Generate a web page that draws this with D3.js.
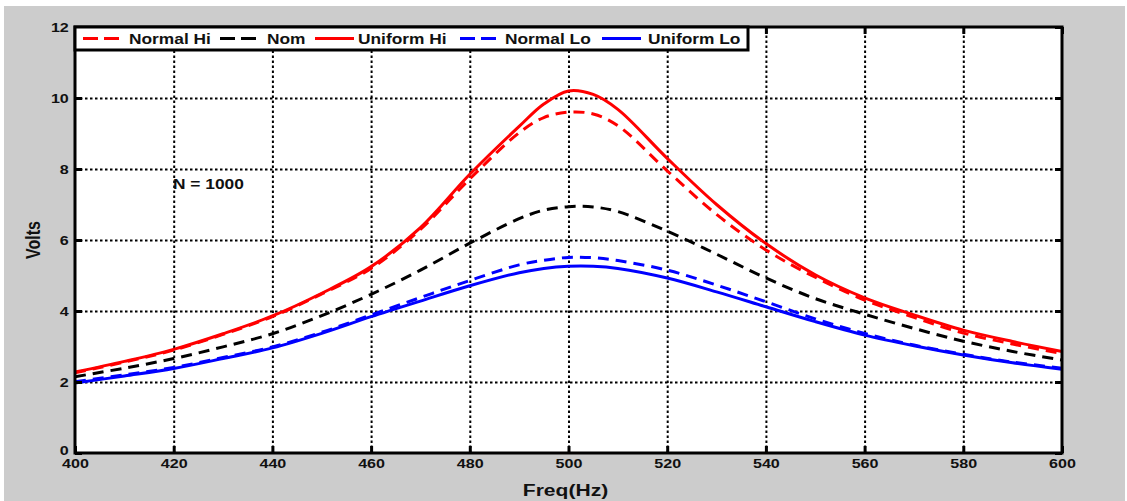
<!DOCTYPE html>
<html>
<head>
<meta charset="utf-8">
<script src="https://cdn.jsdelivr.net/npm/d3@7"></script>
<style>
  body { margin: 0; background: #fff; }
  svg { display: block; }
  text { font-family: 'Liberation Sans', Arial, sans-serif; font-weight: bold; fill: #111; }
</style>
</head>
<body>
<svg></svg>
<script>
const w = 1127;
const h = 501;

// data
const freq = [400, 410, 420, 430, 440, 450, 460, 470, 480, 490, 495, 500, 505, 510, 520, 530, 540, 550, 560, 570, 580, 590, 600];
const normalHi = [2.26, 2.56, 2.9, 3.34, 3.84, 4.48, 5.2, 6.3, 7.72, 9.02, 9.45, 9.6, 9.55, 9.22, 7.95, 6.72, 5.72, 4.95, 4.31, 3.82, 3.38, 3.07, 2.8];
const nom = [2.15, 2.39, 2.66, 2.99, 3.36, 3.87, 4.47, 5.15, 5.91, 6.6, 6.84, 6.94, 6.93, 6.8, 6.25, 5.6, 4.93, 4.35, 3.91, 3.51, 3.15, 2.86, 2.62];
const uniformHi = [2.28, 2.58, 2.92, 3.36, 3.86, 4.5, 5.25, 6.35, 7.85, 9.2, 9.83, 10.2, 10.1, 9.68, 8.3, 7.0, 5.9, 5.02, 4.37, 3.89, 3.46, 3.14, 2.86];
const normalLo = [2.01, 2.2, 2.41, 2.69, 2.99, 3.4, 3.89, 4.38, 4.86, 5.3, 5.43, 5.51, 5.5, 5.42, 5.15, 4.73, 4.26, 3.78, 3.37, 3.04, 2.78, 2.56, 2.39];
const uniformLo = [1.97, 2.17, 2.38, 2.66, 2.96, 3.37, 3.84, 4.28, 4.71, 5.08, 5.2, 5.26, 5.26, 5.2, 4.93, 4.54, 4.12, 3.7, 3.32, 3.02, 2.76, 2.54, 2.36];
const xTicks = [400, 420, 440, 460, 480, 500, 520, 540, 560, 580, 600];
const yTicks = [0, 2, 4, 6, 8, 10, 12];
const seriesNames = ['Normal Hi', 'Nom', 'Uniform Hi', 'Normal Lo', 'Uniform Lo'];

const series = [
  { name: seriesNames[0], values: normalHi, color: '#ff0000', dash: '11,7' },
  { name: seriesNames[1], values: nom, color: '#000000', dash: '11,7' },
  { name: seriesNames[2], values: uniformHi, color: '#ff0000', dash: null },
  { name: seriesNames[3], values: normalLo, color: '#0000ff', dash: '11,7' },
  { name: seriesNames[4], values: uniformLo, color: '#0000ff', dash: null }
];

// the original figure is stretched sideways, text too
const stretch = 1.24;

const margin = { top: 27, right: 65, bottom: 48, left: 75 };
const iw = w - margin.left - margin.right;
const ih = h - margin.top - margin.bottom;

const svg = d3.select('svg').attr('width', w).attr('height', h);

// grey figure background
svg.append('rect').attr('width', w).attr('height', h).attr('fill', '#fff');
svg.append('rect')
  .attr('x', 4).attr('y', 6)
  .attr('width', w - 6).attr('height', h - 6)
  .attr('fill', '#cccccc');

const g = svg.append('g').attr('transform', `translate(${margin.left},${margin.top})`);

const x = d3.scaleLinear().domain([400, 600]).range([0, iw]);
const y = d3.scaleLinear().domain([0, 12]).range([ih, 0]);

g.append('rect').attr('width', iw).attr('height', ih).attr('fill', '#fff');

// dotted grid
const gridX = g.append('g')
  .attr('transform', `translate(0,${ih})`)
  .call(d3.axisBottom(x).tickValues(xTicks.slice(1, -1)).tickSize(-ih).tickFormat(''));
const gridY = g.append('g')
  .call(d3.axisLeft(y).tickValues(yTicks.slice(1, -1)).tickSize(-iw).tickFormat(''));
[gridX, gridY].forEach(gr => {
  gr.select('.domain').remove();
  gr.selectAll('line')
    .attr('stroke', '#000')
    .attr('stroke-width', 2)
    .attr('stroke-dasharray', '2.5,2.5');
});

// curves
const line = d3.line()
  .x((d, i) => x(freq[i]))
  .y(d => y(d))
  .curve(d3.curveCatmullRom.alpha(0.5));

g.append('g')
  .selectAll('path')
  .data(series)
  .enter()
  .append('path')
  .attr('d', d => line(d.values))
  .attr('fill', 'none')
  .attr('stroke', d => d.color)
  .attr('stroke-width', 3)
  .attr('stroke-dasharray', d => d.dash);

// inner ticks on all four sides
const xb = g.append('g').attr('transform', `translate(0,${ih})`)
  .call(d3.axisBottom(x).tickValues(xTicks).tickSize(-7).tickPadding(6));
const xt = g.append('g')
  .call(d3.axisTop(x).tickValues(xTicks).tickSize(-7).tickFormat(''));
const yl = g.append('g')
  .call(d3.axisLeft(y).tickValues(yTicks).tickSize(-7).tickPadding(5));
const yr = g.append('g').attr('transform', `translate(${iw},0)`)
  .call(d3.axisRight(y).tickValues(yTicks).tickSize(-7).tickFormat(''));
[xb, xt, yl, yr].forEach(ax => {
  ax.select('.domain').remove();
  ax.selectAll('line').attr('stroke', '#000').attr('stroke-width', 3);
  ax.selectAll('text')
    .style('font-size', '13px')
    .style('font-family', "'Liberation Sans', Arial, sans-serif")
    .style('font-weight', 'bold')
    .attr('fill', '#111')
    .attr('transform', `scale(${stretch},1)`);
});
// the "0" sits just above the "400"
yl.selectAll('text').filter(d => d === 0).attr('dy', '0.12em');

// plot frame
g.append('rect')
  .attr('width', iw).attr('height', ih)
  .attr('fill', 'none')
  .attr('stroke', '#000')
  .attr('stroke-width', 3);

// legend
const legendPos = [
  { sx: 83, tx: 129 },
  { sx: 220, tx: 267 },
  { sx: 315, tx: 358 },
  { sx: 460, tx: 505 },
  { sx: 602, tx: 648 }
];

const legend = svg.append('g');
legend.append('rect')
  .attr('x', margin.left).attr('y', margin.top)
  .attr('width', 673).attr('height', 23)
  .attr('fill', '#fff')
  .attr('stroke', '#000')
  .attr('stroke-width', 3);

series.forEach((s, i) => {
  const p = legendPos[i];
  legend.append('line')
    .attr('x1', p.sx).attr('x2', p.sx + (s.dash ? 36 : 39))
    .attr('y1', 38.5).attr('y2', 38.5)
    .attr('stroke', s.color)
    .attr('stroke-width', 3)
    .attr('stroke-dasharray', s.dash ? '15,6' : null);
  legend.append('text')
    .attr('transform', `translate(${p.tx},43.5) scale(${stretch},1)`)
    .style('font-size', '14px')
    .text(s.name);
});

// annotations and axis titles
svg.append('text')
  .attr('transform', `translate(173,189) scale(${stretch},1)`)
  .style('font-size', '14px')
  .text('N = 1000');

svg.append('text')
  .attr('transform', `translate(${margin.left + iw / 2 - 3},496) scale(${stretch},1)`)
  .attr('text-anchor', 'middle')
  .style('font-size', '17px')
  .text('Freq(Hz)');

svg.append('text')
  .attr('transform', `translate(40,${margin.top + ih / 2}) rotate(-90) scale(1,${stretch})`)
  .attr('text-anchor', 'middle')
  .style('font-size', '16px')
  .text('Volts');
</script>
</body>
</html>
